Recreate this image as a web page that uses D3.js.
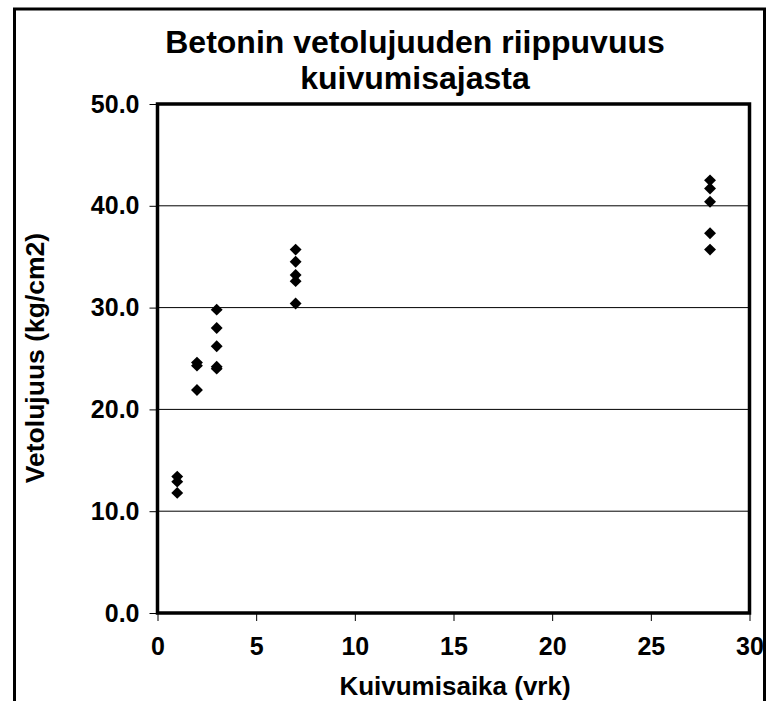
<!DOCTYPE html>
<html>
<head>
<meta charset="utf-8">
<script src="https://cdn.jsdelivr.net/npm/d3@7"></script>
<style>
  body { margin: 0; background: #fff; }
  svg { display: block; font-family: "Liberation Sans", Arial, sans-serif; font-weight: bold; }
</style>
</head>
<body>
<svg id="chart"></svg>
<script>
const dryingDays = [1, 1, 1, 2, 2, 2, 3, 3, 3, 3, 3, 7, 7, 7, 7, 7, 28, 28, 28, 28, 28];
const tensileStrength = [13.4, 12.9, 11.8, 24.6, 24.3, 21.9, 29.8, 28.0, 26.2, 24.2, 24.0,
                         35.7, 34.5, 33.2, 32.6, 30.4, 42.5, 41.7, 40.4, 37.3, 35.7];
const xTicks = [0, 5, 10, 15, 20, 25, 30];
const yTicks = [0, 10, 20, 30, 40, 50];
const titleLines = ["Betonin vetolujuuden riippuvuus", "kuivumisajasta"];

const width = 771, height = 701;
const margin = { top: 104, right: 21.5, bottom: 88, left: 157.5 };

const svg = d3.select('#chart')
    .attr('width', width)
    .attr('height', height);

// Outer chart frame (bottom edge runs off the picture)
svg.append('rect')
    .attr('x', 14.5).attr('y', 9)
    .attr('width', 750).attr('height', 720)
    .attr('fill', 'none')
    .attr('stroke', '#000')
    .attr('stroke-width', 3);

const x = d3.scaleLinear().domain([0, 30]).range([margin.left, width - margin.right]);
const y = d3.scaleLinear().domain([0, 50]).range([height - margin.bottom, margin.top]);

// Gridlines
svg.append('g')
    .selectAll('line')
    .data(yTicks.filter(d => d > 0 && d < 50))
    .join('line')
    .attr('x1', x(0)).attr('x2', x(30))
    .attr('y1', d => y(d)).attr('y2', d => y(d))
    .attr('stroke', '#000')
    .attr('stroke-width', 1);

// Axes
const yAxis = svg.append('g')
    .attr('transform', `translate(${x(0)},0)`)
    .call(d3.axisLeft(y).tickValues(yTicks).tickFormat(d3.format('.1f')).tickSize(8).tickPadding(10));
const xAxis = svg.append('g')
    .attr('transform', `translate(0,${y(0)})`)
    .call(d3.axisBottom(x).tickValues(xTicks).tickSize(8).tickPadding(16));

[xAxis, yAxis].forEach(a => {
    a.select('.domain').remove();
    a.selectAll('line').attr('stroke', '#000').attr('stroke-width', 1);
    a.selectAll('text')
        .attr('fill', '#000')
        .style('font-family', '"Liberation Sans", Arial, sans-serif')
        .style('font-weight', 'bold')
        .style('font-size', '25px');
});

// Plot area border
svg.append('rect')
    .attr('x', x(0)).attr('y', y(50))
    .attr('width', x(30) - x(0)).attr('height', y(0) - y(50))
    .attr('fill', 'none')
    .attr('stroke', '#000')
    .attr('stroke-width', 3.5);

// Diamond markers
const diamond = d3.symbol().type(d3.symbolDiamond2).size(90);
svg.append('g')
    .selectAll('path')
    .data(dryingDays.map((d, i) => [d, tensileStrength[i]]))
    .join('path')
    .attr('d', diamond)
    .attr('transform', d => `translate(${x(d[0])},${y(d[1])})`)
    .attr('fill', '#000');

// Title
svg.append('text')
    .attr('text-anchor', 'middle')
    .style('font-size', '32px')
    .selectAll('tspan')
    .data(titleLines)
    .join('tspan')
    .attr('x', 415)
    .attr('y', (d, i) => 53 + i * 36)
    .text(d => d);

// Axis titles
svg.append('text')
    .attr('x', 455).attr('y', 695)
    .attr('text-anchor', 'middle')
    .style('font-size', '26px')
    .text('Kuivumisaika (vrk)');

svg.append('text')
    .attr('transform', 'translate(44,358) rotate(-90)')
    .attr('text-anchor', 'middle')
    .style('font-size', '26.5px')
    .text('Vetolujuus (kg/cm2)');
</script>
</body>
</html>
